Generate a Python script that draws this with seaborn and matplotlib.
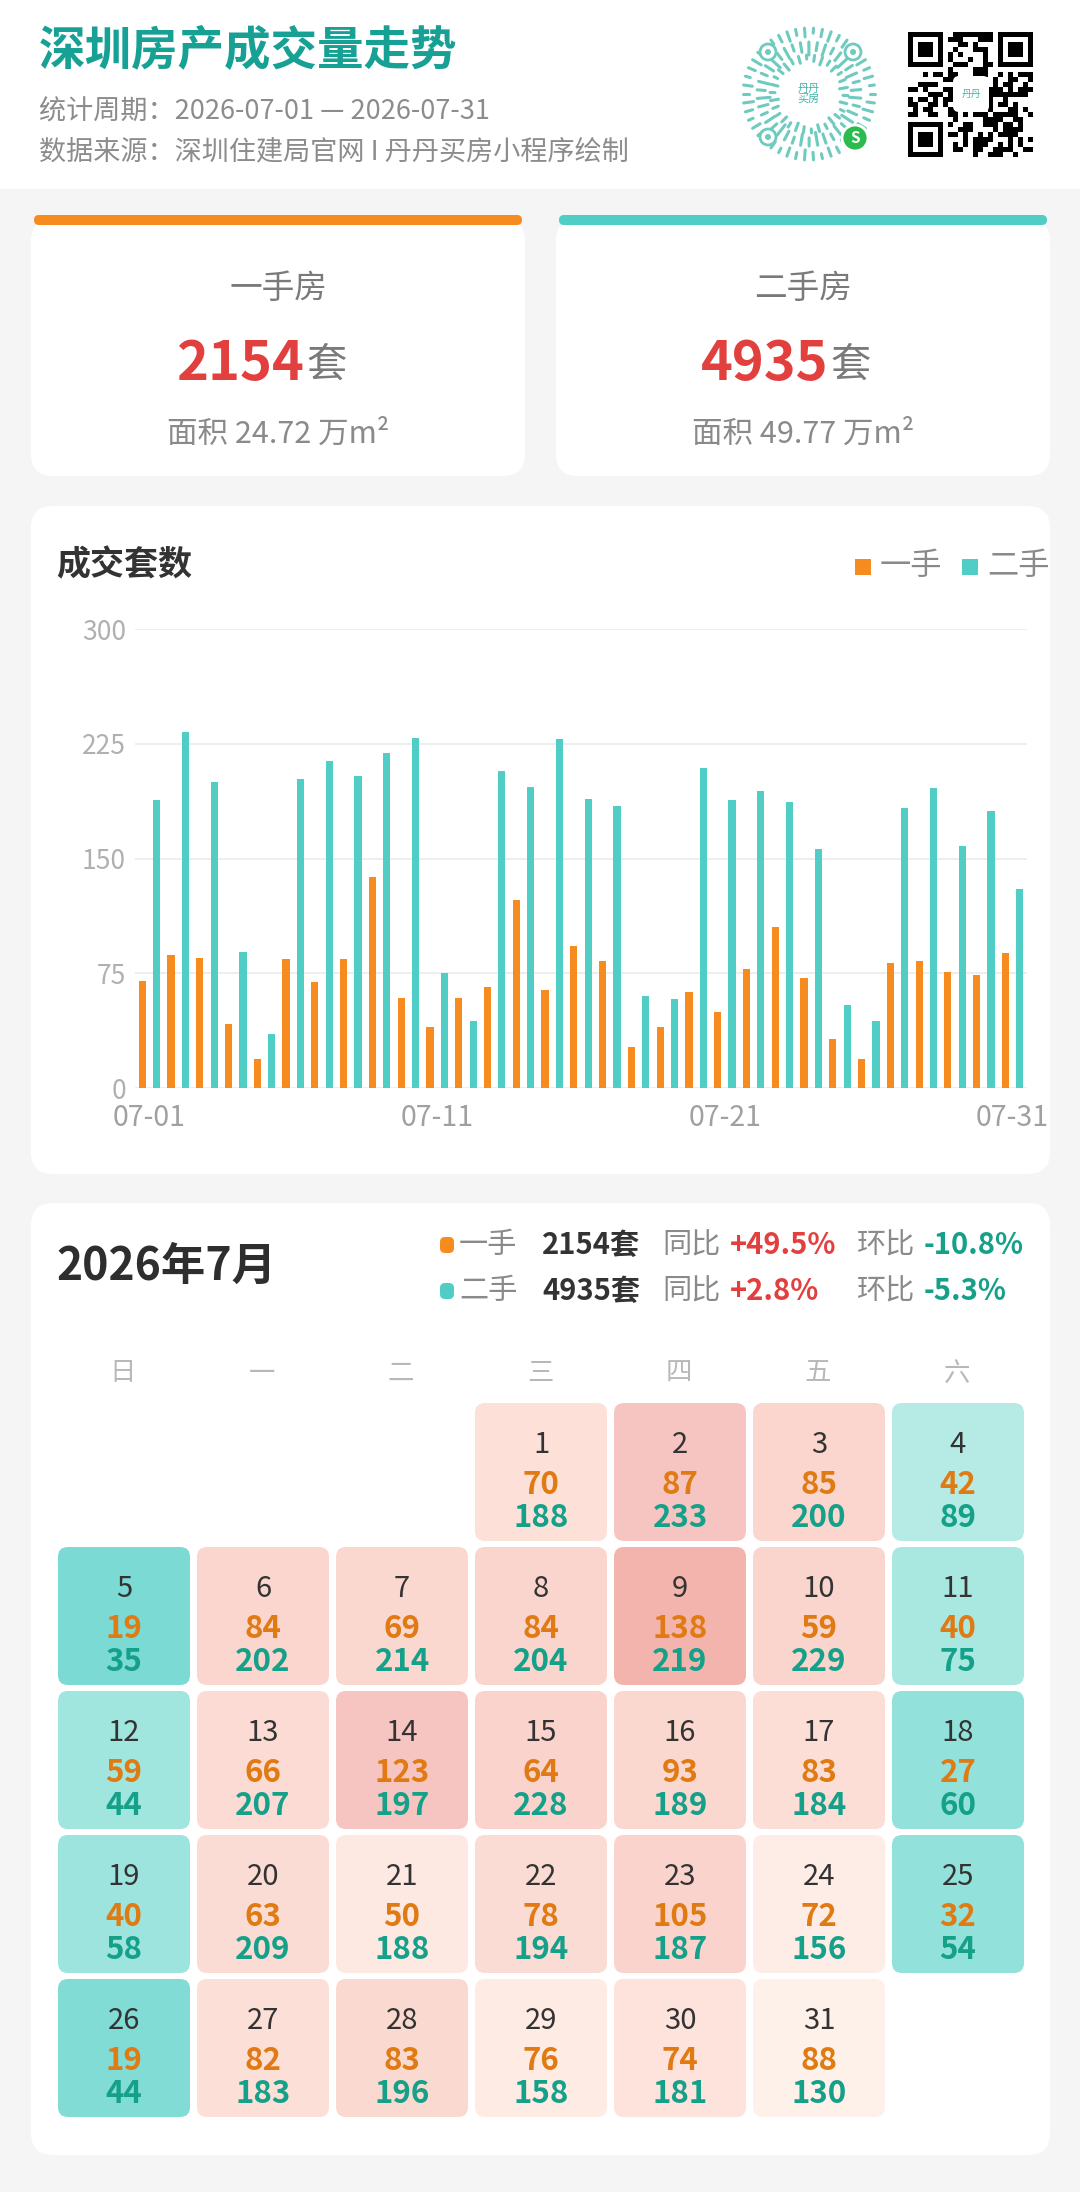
import hashlib

import numpy as np
import pandas as pd
import matplotlib
matplotlib.use('Agg')
import matplotlib.pyplot as plt
from matplotlib.patches import FancyBboxPatch, Rectangle, Circle
from matplotlib.colors import LinearSegmentedColormap, Normalize
import seaborn as sns

# ---- data ----
days = list(range(1, 32))
date_labels = [f'07-{d:02d}' for d in days]
new_units = [70, 87, 85, 42, 19, 84, 69, 84, 138, 59, 40, 59, 66, 123, 64, 93,
             83, 27, 40, 63, 50, 78, 105, 72, 32, 19, 82, 83, 76, 74, 88]
resale_units = [188, 233, 200, 89, 35, 202, 214, 204, 219, 229, 75, 44, 207, 197,
                228, 189, 184, 60, 58, 209, 188, 194, 187, 156, 54, 44, 183, 196,
                158, 181, 130]
series_names = ['一手', '二手']
area_wan = [24.72, 49.77]
yoy_pct = [49.5, 2.8]
mom_pct = [-10.8, -5.3]
weekday_names = ['日', '一', '二', '三', '四', '五', '六']
first_weekday = 3  # 2026-07-01 falls on 三
y_ticks = [0, 75, 150, 225, 300]
x_tick_days = [0, 10, 20, 30]

ORANGE = '#f68b1f'
TEAL = '#50cec5'
RED = '#e2403f'
DARK_TEAL = '#15a08a'
W, H = 1080, 2192

sns.set_style('white')
plt.rcParams['font.family'] = ['Noto Sans CJK SC', 'DejaVu Sans']

fig = plt.figure(figsize=(W / 100, H / 100), dpi=100)
fig.patch.set_facecolor('#f5f5f5')
bg = fig.add_axes([0, 0, 1, 1])
bg.set_xlim(0, W)
bg.set_ylim(H, 0)
bg.axis('off')


def card(x, y, w, h, r=22, color='white', z=1):
    bg.add_patch(FancyBboxPatch((x, y), w, h, boxstyle=f'round,pad=0,rounding_size={r}',
                                fc=color, ec='none', zorder=z))


# ---- header ----
bg.add_patch(Rectangle((0, 0), W, 189, fc='white', ec='none', zorder=0))
bg.text(39, 50, '深圳房产成交量走势', fontsize=33.5, fontweight='bold', color='#17a194', va='center')
bg.text(39, 112, '统计周期：2026-07-01 — 2026-07-31', fontsize=19.5, color='#8c8c8c', va='center')
bg.text(39, 152, '数据来源：深圳住建局官网 I 丹丹买房小程序绘制', fontsize=19.5, color='#8c8c8c', va='center')

# mini program code (decoration)
cx, cy = 809, 94
for k, (rad, n, ln, off) in enumerate([(66, 46, 10, 0.0), (52, 38, 13, 0.08), (39, 30, 8, 0.04)]):
    for j, a in enumerate(np.linspace(0, 2 * np.pi, n, endpoint=False) + off):
        l = ln * (0.5 + 0.5 * ((j * 7 + k * 3) % 5) / 4)
        bg.plot([cx + rad * np.cos(a), cx + (rad - l) * np.cos(a)],
                [cy + rad * np.sin(a), cy + (rad - l) * np.sin(a)],
                color='#6fcabf', lw=2.2, solid_capstyle='round', zorder=3)
bg.add_patch(Circle((cx, cy), 28, fc='white', ec='none', zorder=4))
bg.text(cx, cy, '丹丹\n买房', fontsize=8, color='#3fb5a8', ha='center', va='center',
        linespacing=1.0, zorder=5)
for ex, ey in [(cx - 41, cy - 42), (cx + 44, cy - 42), (cx - 41, cy + 43)]:
    bg.add_patch(Circle((ex, ey), 8, fc='white', ec='#6fcabf', lw=2, zorder=4))
    bg.add_patch(Circle((ex, ey), 3, fc='#6fcabf', ec='none', zorder=5))
bg.add_patch(Circle((cx + 46, cy + 44), 13, fc='#2cbb4f', ec='white', lw=2, zorder=6))
bg.text(cx + 46, cy + 44, 'S', fontsize=11, fontweight='bold', color='white',
        ha='center', va='center', zorder=7)

# QR code (decoration)
n = 25
bits = ''.join(f'{b:08b}' for s in range(3) for b in hashlib.sha256(f'dandan{s}'.encode()).digest())
qr = np.array([int(c) for c in bits[:n * n]]).reshape(n, n)
finder = np.ones((7, 7), dtype=int)
finder[1:6, 1:6] = 0
finder[2:5, 2:5] = 1
for r0, c0 in [(0, 0), (0, n - 7), (n - 7, 0)]:
    qr[max(r0 - 1, 0):r0 + 8, max(c0 - 1, 0):c0 + 8] = 0
    qr[r0:r0 + 7, c0:c0 + 7] = finder
bg.imshow(1 - qr, cmap='gray', extent=(908, 1033, 157, 32), interpolation='nearest',
          aspect='auto', zorder=2)
card(953, 76, 36, 36, r=6, color='white', z=3)
bg.text(971, 94, '丹丹', fontsize=7, color='#3fb5a8', ha='center', va='center', zorder=4)
bg.set_xlim(0, W)
bg.set_ylim(H, 0)

# ---- summary cards ----
totals = [sum(new_units), sum(resale_units)]
for i, (x0, col) in enumerate([(31, ORANGE), (556, TEAL)]):
    card(x0, 219, 494, 257)
    bg.add_patch(FancyBboxPatch((x0 + 3, 215), 488, 10, boxstyle='round,pad=0,rounding_size=5',
                                fc=col, ec='none', zorder=2))
    mid = x0 + 247
    bg.text(mid, 289, series_names[i] + '房', fontsize=23.5, color='#7a7a7a', ha='center', va='center', zorder=3)
    bg.text(mid + 26, 380, f'{totals[i]}', fontsize=39, fontweight='bold', color=RED,
            ha='right', va='baseline', zorder=3)
    bg.text(mid + 28, 377, '套', fontsize=29, color='#7a7a7a', ha='left', va='baseline', zorder=3)
    bg.text(mid, 434, f'面积 {area_wan[i]:.2f} 万m²', fontsize=22, color='#8a8a8a',
            ha='center', va='center', zorder=3)

# ---- bar chart card ----
card(31, 506, 1019, 668)
bg.text(56, 565, '成交套数', fontsize=24.5, fontweight='bold', color='#333333', va='center', zorder=3)
for sx, tx, col, name in [(855, 880, ORANGE, series_names[0]), (962, 987, TEAL, series_names[1])]:
    bg.add_patch(Rectangle((sx, 559), 16, 16, fc=col, ec='none', zorder=3))
    bg.text(tx, 566, name, fontsize=22.5, color='#8a8a8a', va='center', zorder=3)

ax = fig.add_axes([135 / W, 1 - 1088 / H, 892 / W, 459 / H])
ax.set_facecolor('none')
df = pd.DataFrame({
    'date': date_labels * 2,
    'type': [series_names[0]] * len(days) + [series_names[1]] * len(days),
    'units': new_units + resale_units,
})
sns.barplot(data=df, x='date', y='units', hue='type', hue_order=series_names,
            palette=[ORANGE, TEAL], width=1.0, gap=0.5, saturation=1,
            linewidth=0, legend=False, ax=ax)
ax.set_xlim(-0.5, len(days) - 0.5)
ax.set_ylim(0, 300)
ax.set_yticks(y_ticks)
ax.set_xticks(x_tick_days)
ax.set_xticklabels([date_labels[i] for i in x_tick_days])
ax.set_xlabel('')
ax.set_ylabel('')
ax.yaxis.grid(True, color='#eeeeee', lw=1.4)
ax.set_axisbelow(True)
for s in ax.spines.values():
    s.set_visible(False)
ax.tick_params(axis='y', length=0, pad=6.5, labelsize=19, labelcolor='#b0b0b0')
ax.tick_params(axis='x', length=0, pad=11, labelsize=20.5, labelcolor='#a0a0a0')

# ---- calendar card ----
card(31, 1203, 1019, 952)
bg.text(56, 1267, '2026年7月', fontsize=32, fontweight='bold', color='#2e2e2e', va='center', zorder=3)
for i, (yy, col) in enumerate([(1245, ORANGE), (1291, TEAL)]):
    bg.add_patch(FancyBboxPatch((440, yy - 8), 14, 16, boxstyle='round,pad=0,rounding_size=5',
                                fc=col, ec='none', zorder=3))
    bg.text(459, yy, series_names[i], fontsize=21, color='#8a8a8a', va='center', zorder=3)
    bg.text(542, yy, f'{totals[i]}套', fontsize=21, fontweight='bold', color='#333333', va='center', zorder=3)
    bg.text(662, yy, '同比', fontsize=21, color='#8a8a8a', va='center', zorder=3)
    bg.text(730, yy, f'{yoy_pct[i]:+.1f}%', fontsize=21, fontweight='bold',
            color=RED if yoy_pct[i] >= 0 else DARK_TEAL, va='center', zorder=3)
    bg.text(857, yy, '环比', fontsize=21, color='#8a8a8a', va='center', zorder=3)
    bg.text(924, yy, f'{mom_pct[i]:+.1f}%', fontsize=21, fontweight='bold',
            color=RED if mom_pct[i] >= 0 else DARK_TEAL, va='center', zorder=3)

for i, name in enumerate(weekday_names):
    bg.text(123 + 139 * i, 1373, name, fontsize=19, color='#b8b8b8', ha='center', va='center', zorder=3)

day_totals = [a + b for a, b in zip(new_units, resale_units)]
cell_cmap = LinearSegmentedColormap.from_list('cal', [
    (0.0, '#7bdad4'), (0.254, '#b5ebe4'), (0.45, '#fef8f3'), (0.54, '#fef1ea'),
    (0.67, '#fde2da'), (0.76, '#fad7cf'), (0.88, '#f6c4c1'), (1.0, '#f4b4ae')])
cell_norm = Normalize(vmin=min(day_totals), vmax=max(day_totals))
for d, nv, rv, tot in zip(days, new_units, resale_units, day_totals):
    idx = first_weekday + d - 1
    row, col = divmod(idx, 7)
    x0 = 58 + 139 * col
    y0 = 1403 + 144 * row
    card(x0, y0, 132, 138, r=10, color=cell_cmap(cell_norm(tot)), z=2)
    xc = x0 + 66
    bg.text(xc, y0 + 50, str(d), fontsize=21, color='#333333', ha='center', va='baseline', zorder=3)
    bg.text(xc, y0 + 91, str(nv), fontsize=22.5, fontweight='bold', color='#e07a12',
            ha='center', va='baseline', zorder=3)
    bg.text(xc, y0 + 124, str(rv), fontsize=22.5, fontweight='bold', color=DARK_TEAL,
            ha='center', va='baseline', zorder=3)

fig.savefig('out.png', dpi=100, facecolor=fig.get_facecolor())
